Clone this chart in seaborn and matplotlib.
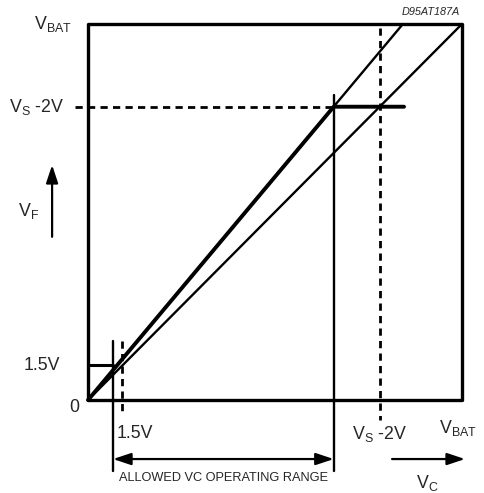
import matplotlib
matplotlib.use("Agg")
import matplotlib.pyplot as plt
import seaborn as sns
import pandas as pd

# Normalised voltages (V_BAT = 10 units)
V_BAT = 10.0
VS_MINUS_2V = 7.8          # V_S - 2V level
V_1P5 = 0.93               # 1.5V level
VC_RANGE = [0.67, 6.57]    # allowed VC operating range (ends)
GAIN_TOP_VC = 8.42         # VC where the steep line reaches V_BAT
CLAMP_END_VC = 8.45        # end of the V_S-2V clamp segment

# Reference lines
diag_vc = [0.0, V_BAT]
diag_vf = [0.0, V_BAT]
steep_vc = [0.0, GAIN_TOP_VC]
steep_vf = [0.0, V_BAT]

# Output characteristic (thick)
char_vc = [0.0, VC_RANGE[1], CLAMP_END_VC]
char_vf = [0.0, VS_MINUS_2V, VS_MINUS_2V]
low_vc = [0.0, VC_RANGE[0]]
low_vf = [V_1P5, V_1P5]

sns.set_theme(style="white")
plt.rcParams["font.family"] = ["Liberation Sans", "DejaVu Sans"]
plt.rcParams["mathtext.default"] = "regular"

fig = plt.figure(figsize=(4.85, 4.93), dpi=100)
ax = fig.add_axes([0, 0, 1, 1])
ax.set_xlim(-2.353, 10.615)
ax.set_ylim(-2.473, 10.638)
ax.axis("off")

k = dict(color="black", estimator=None, sort=False, legend=False, ax=ax)

# Frame
box = pd.DataFrame({"vc": [0, V_BAT, V_BAT, 0, 0], "vf": [0, 0, V_BAT, V_BAT, 0]})
sns.lineplot(data=box, x="vc", y="vf", linewidth=2.4, **k)

# Thin reference lines
sns.lineplot(x=diag_vc, y=diag_vf, linewidth=1.7, **k)
sns.lineplot(x=steep_vc, y=steep_vf, linewidth=1.7, **k)

# Thick characteristic
sns.lineplot(x=char_vc, y=char_vf, linewidth=2.8, **k)
sns.lineplot(x=low_vc, y=low_vf, linewidth=2.2, **k)

# Range limit verticals
ax.plot([VC_RANGE[0], VC_RANGE[0]], [1.57, -1.9], color="black", lw=1.7)
ax.plot([VC_RANGE[1], VC_RANGE[1]], [8.11, -1.9], color="black", lw=1.7)

# Dashed guides
dash = dict(color="black", lw=2.0, dashes=(2.6, 1.9))
ax.plot([0.92, 0.92], [1.57, -0.37], **dash)
ax.plot([VS_MINUS_2V, VS_MINUS_2V], [9.9, -0.53], **dash)
ax.plot([-0.35, VC_RANGE[1]], [VS_MINUS_2V, VS_MINUS_2V], **dash)

# Allowed range arrow
head = "head_length=0.9,head_width=0.3"
ax.annotate("", xy=(VC_RANGE[0], -1.57), xytext=(VC_RANGE[1], -1.57),
            arrowprops=dict(arrowstyle="<|-|>," + head,
                            color="black", lw=1.6, shrinkA=0, shrinkB=0))
ax.text(sum(VC_RANGE) / 2, -2.08, "ALLOWED VC OPERATING RANGE",
        ha="center", va="center", fontsize=9.2)

# Axis direction arrows
ax.annotate("", xy=(10.08, -1.57), xytext=(8.13, -1.57),
            arrowprops=dict(arrowstyle="-|>," + head,
                            color="black", lw=1.6, shrinkA=0, shrinkB=0))
ax.annotate("", xy=(-0.96, 6.25), xytext=(-0.96, 4.34),
            arrowprops=dict(arrowstyle="-|>," + head,
                            color="black", lw=1.6, shrinkA=0, shrinkB=0))

fs = 12.8
ax.text(-0.43, V_BAT, r"$V_{BAT}$", ha="right", va="center", fontsize=fs)
ax.text(-0.64, VS_MINUS_2V, r"$V_S$ -2V", ha="right", va="center", fontsize=fs)
ax.text(-0.75, V_1P5, "1.5V", ha="right", va="center", fontsize=fs)
ax.text(-0.37, -0.21, "0", ha="center", va="center", fontsize=fs)
ax.text(-1.58, 5.03, r"$V_F$", ha="center", va="center", fontsize=fs)
ax.text(0.76, -0.88, "1.5V", ha="left", va="center", fontsize=fs)
ax.text(VS_MINUS_2V, -0.9, r"$V_S$ -2V", ha="center", va="center", fontsize=fs)
ax.text(9.38, -0.74, r"$V_{BAT}$", ha="left", va="center", fontsize=fs)
ax.text(9.06, -2.2, r"$V_C$", ha="center", va="center", fontsize=fs)
ax.text(9.95, 10.32, "D95AT187A", ha="right", va="center", fontsize=7.8, style="italic")

fig.savefig("out.png", dpi=100)
